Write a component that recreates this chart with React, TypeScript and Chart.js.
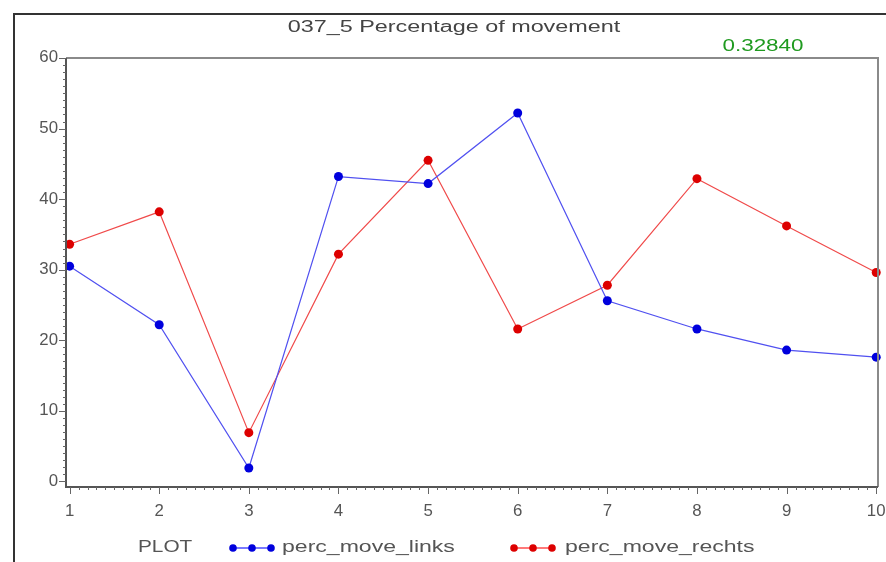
import React, { useEffect, useRef } from "react";
import { Chart, registerables } from "chart.js";

Chart.register(...registerables);

const categories = [1, 2, 3, 4, 5, 6, 7, 8, 9, 10];
const percMoveLinks = [30.5, 22.2, 1.9, 43.2, 42.2, 52.2, 25.6, 21.6, 18.6, 17.6];
const percMoveRechts = [33.6, 38.2, 6.9, 32.2, 45.5, 21.6, 27.8, 42.9, 36.2, 29.6];
const yTicks = [0, 10, 20, 30, 40, 50, 60];
const xTicks = [1, 2, 3, 4, 5, 6, 7, 8, 9, 10];
const titleText = "037_5 Percentage of movement";
const cornerText = "0.32840";
const legendTitle = "PLOT";
const seriesNames = ["perc_move_links", "perc_move_rechts"];

const FONT = "'Liberation Sans', Arial, sans-serif";

function stretchText(ctx: CanvasRenderingContext2D, text: string, x: number, y: number, sx: number, align: "left" | "center" | "right") {
  ctx.save();
  ctx.translate(x, y);
  ctx.scale(sx, 1);
  ctx.textAlign = align;
  ctx.fillText(text, 0, 0);
  ctx.restore();
}

const decorPlugin = {
  id: "decor",
  afterDraw(chart: any) {
    const ctx: CanvasRenderingContext2D = chart.ctx;
    const area = chart.chartArea;
    const xs = chart.scales.x;
    const ys = chart.scales.y;
    ctx.save();
    // outer frame
    ctx.strokeStyle = "#333";
    ctx.lineWidth = 2;
    ctx.beginPath();
    ctx.moveTo(14, 600);
    ctx.lineTo(14, 14);
    ctx.lineTo(900, 14);
    ctx.stroke();

    // plot frame top/right (gray)
    ctx.strokeStyle = "#8a8a8a";
    ctx.lineWidth = 2;
    ctx.beginPath();
    ctx.moveTo(area.left, area.top);
    ctx.lineTo(area.right, area.top);
    ctx.lineTo(area.right, area.bottom);
    ctx.stroke();
    // axes left/bottom
    ctx.strokeStyle = "#555";
    ctx.lineWidth = 2;
    ctx.beginPath();
    ctx.moveTo(area.left, area.top);
    ctx.lineTo(area.left, area.bottom);
    ctx.lineTo(area.right, area.bottom);
    ctx.stroke();

    // y ticks
    ctx.lineWidth = 1;
    ctx.strokeStyle = "#666";
    ctx.beginPath();
    for (let v = 0; v <= 60; v += 1) {
      const py = Math.round(ys.getPixelForValue(v)) + 0.5;
      const len = v % 10 === 0 ? 7 : 3;
      ctx.moveTo(area.left - len, py);
      ctx.lineTo(area.left, py);
    }
    // x ticks
    for (let i = 10; i <= 100; i += 1) {
      const v = i / 10;
      const px = Math.round(xs.getPixelForValue(v)) + 0.5;
      const len = i % 10 === 0 ? 7 : 3;
      ctx.moveTo(px, area.bottom);
      ctx.lineTo(px, area.bottom + len);
    }
    ctx.stroke();

    ctx.fillStyle = "#555";
    ctx.font = `16px ${FONT}`;
    ctx.textBaseline = "middle";
    for (const v of yTicks) {
      stretchText(ctx, String(v), area.left - 8, ys.getPixelForValue(v), 1.05, "right");
    }
    for (const v of xTicks) {
      stretchText(ctx, String(v), xs.getPixelForValue(v), 512, 1.05, "center");
    }

    // title
    ctx.fillStyle = "#444";
    ctx.font = `16px ${FONT}`;
    stretchText(ctx, titleText, 454, 28, 1.46, "center");
    ctx.fillStyle = "#1f9a1f";
    ctx.font = `16px ${FONT}`;
    stretchText(ctx, cornerText, 763, 47, 1.4, "center");

    // legend
    const ly = 548;
    ctx.fillStyle = "#555";
    ctx.font = `16px ${FONT}`;
    stretchText(ctx, legendTitle, 138, ly, 1.3, "left");
    const colors = ["#0000dd", "#dd0000"];
    const lineColors = ["#4d4dff", "#ff4d4d"];
    const starts = [231, 512];
    const textStarts = [282, 565];
    for (let s = 0; s < 2; s++) {
      const x0 = starts[s];
      ctx.strokeStyle = lineColors[s];
      ctx.lineWidth = 1.5;
      ctx.beginPath();
      ctx.moveTo(x0, ly);
      ctx.lineTo(x0 + 42, ly);
      ctx.stroke();
      ctx.fillStyle = colors[s];
      for (let k = 0; k < 3; k++) {
        ctx.beginPath();
        ctx.arc(x0 + 2 + k * 19, ly, 3.8, 0, Math.PI * 2);
        ctx.fill();
      }
      ctx.fillStyle = "#555";
      stretchText(ctx, seriesNames[s], textStarts[s], ly, 1.44, "left");
    }
    ctx.restore();
  },
};

export default function App() {
  const ref = useRef<HTMLCanvasElement>(null);
  useEffect(() => {
    const canvas = ref.current;
    if (!canvas) return;
    const chart = new Chart(canvas, {
      type: "line",
      data: {
        datasets: [
          {
            label: seriesNames[0],
            data: categories.map((c, i) => ({ x: c, y: percMoveLinks[i] })),
            borderColor: "#5050f0",
            backgroundColor: "#0000dd",
            pointBackgroundColor: "#0000dd",
            pointBorderColor: "#0000dd",
            borderWidth: 1.2,
            pointRadius: 4.5,
            pointBorderWidth: 0,
            tension: 0,
          },
          {
            label: seriesNames[1],
            data: categories.map((c, i) => ({ x: c, y: percMoveRechts[i] })),
            borderColor: "#f04a4a",
            backgroundColor: "#dd0000",
            pointBackgroundColor: "#dd0000",
            pointBorderColor: "#dd0000",
            borderWidth: 1.2,
            pointRadius: 4.5,
            pointBorderWidth: 0,
            tension: 0,
          },
        ],
      },
      options: {
        animation: false,
        responsive: false,
        devicePixelRatio: 1,
        clip: false,
        layout: { padding: { left: 66, top: 58, right: 8, bottom: 75 } },
        plugins: { legend: { display: false }, title: { display: false }, tooltip: { enabled: false } },
        scales: {
          x: { type: "linear", min: 0.96, max: 10.02, display: false },
          y: { type: "linear", min: -0.8, max: 60, display: false },
        },
      },
      plugins: [decorPlugin],
    });
    return () => chart.destroy();
  }, []);
  return (
    <div style={{ position: "fixed", left: 0, top: 0, width: 886, height: 562, background: "#fff" }}>
      <canvas ref={ref} width={886} height={562} style={{ display: "block", width: 886, height: 562 }} />
    </div>
  );
}
